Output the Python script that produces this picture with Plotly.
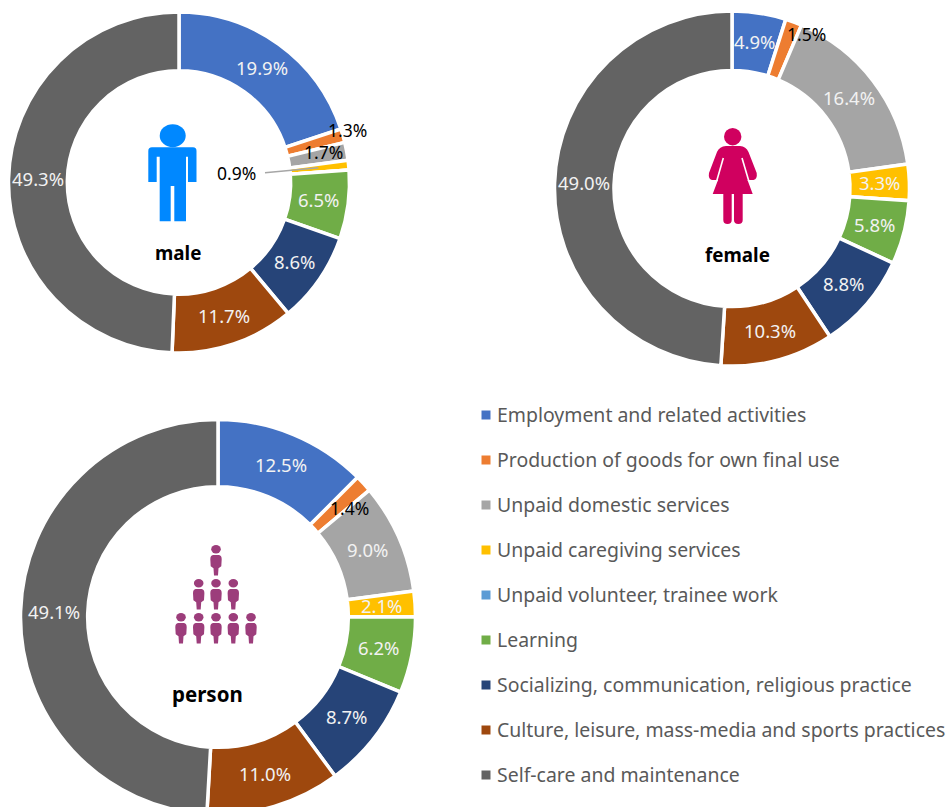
import math
import plotly.graph_objects as go

W, H = 949, 820

categories = ["Employment and related activities", "Production of goods for own final use",
              "Unpaid domestic services", "Unpaid caregiving services",
              "Unpaid volunteer, trainee work", "Learning",
              "Socializing, communication, religious practice",
              "Culture, leisure, mass-media and sports practices",
              "Self-care and maintenance"]
colors = ["#4472C4", "#ED7D31", "#A5A5A5", "#FFC000", "#5B9BD5", "#70AD47", "#264478", "#9E480E", "#636363"]
male = [19.9, 1.3, 1.7, 0.9, 0.0, 6.5, 8.6, 11.7, 49.3]
female = [4.9, 1.5, 16.4, 3.3, 0.0, 5.8, 8.8, 10.3, 49.0]
person = [12.5, 1.4, 9.0, 2.1, 0.0, 6.2, 8.7, 11.0, 49.1]

# name, values, cx, cy, outer r, hole, dark-label pixel positions keyed by category index
charts = [
    ("male", male, 179, 182.5, 170.5, 0.655, {1: (347, 130), 2: (323.5, 152), 3: (236, 173)}),
    ("female", female, 732, 188.5, 177.5, 0.665, {1: (806, 34)}),
    ("person", person, 218, 617, 197.5, 0.66, {1: (349, 508)}),
]
titles = [("male", 178, 253, 18.8), ("female", 737, 255, 18.8), ("person", 207, 694, 20.5)]
FONT = "Noto Sans"


def px(x):
    return x / W


def py(y):
    return 1 - y / H


fig = go.Figure()
annotations = []
for name, vals, cx, cy, r, hole, dark in charts:
    fig.add_trace(go.Pie(
        labels=categories, values=vals, sort=False, direction="clockwise", rotation=0,
        hole=hole, textinfo="none", hoverinfo="label+percent", showlegend=False,
        marker=dict(colors=colors, line=dict(color="white", width=3.5)),
        domain=dict(x=[px(cx - r), px(cx + r)], y=[py(cy + r), py(cy - r)]),
        name=name))
    total = sum(vals)
    cum = 0
    for i, v in enumerate(vals):
        mid = (cum + v / 2) / total * 2 * math.pi
        cum += v
        if v == 0:
            continue
        if i in dark:
            x, y = dark[i]
            col = "black"
            size = 17.5
        else:
            rm = r * (1 + hole) / 2
            x, y = cx + rm * math.sin(mid), cy - rm * math.cos(mid) - 1
            col = "#F2F2F2"
            size = 18.5
        annotations.append(dict(x=px(x), y=py(y), xref="paper", yref="paper", text=f"{v:.1f}%",
                                showarrow=False, xanchor="center", yanchor="middle",
                                font=dict(family=FONT, size=size, color=col)))

for t, x, y, s in titles:
    annotations.append(dict(x=px(x), y=py(y), xref="paper", yref="paper", text=f"<b>{t}</b>",
                            showarrow=False, xanchor="center", yanchor="middle",
                            font=dict(family=FONT, size=s, color="black")))

shapes = []


def path_shape(points_cmds, fill):
    out = []
    for c in points_cmds:
        if isinstance(c, str):
            out.append(c)
        else:
            out.append(f"{px(c[0]):.5f},{py(c[1]):.5f}")
    shapes.append(dict(type="path", xref="paper", yref="paper", path=" ".join(out),
                       fillcolor=fill, line=dict(width=0)))


def ellipse(cx, cy, rx, ry, fill):
    shapes.append(dict(type="circle", xref="paper", yref="paper", x0=px(cx - rx), x1=px(cx + rx),
                       y0=py(cy + ry), y1=py(cy - ry), fillcolor=fill, line=dict(width=0)))


def line(x0, y0, x1, y1, color, width):
    shapes.append(dict(type="line", xref="paper", yref="paper", x0=px(x0), x1=px(x1),
                       y0=py(y0), y1=py(y1), line=dict(color=color, width=width)))


# legend
for i, c in enumerate(categories):
    ly = 415 + 45 * i
    shapes.append(dict(type="rect", xref="paper", yref="paper", x0=px(481.5), x1=px(490.5),
                       y0=py(ly + 4.5), y1=py(ly - 4.5), fillcolor=colors[i], line=dict(width=0)))
    annotations.append(dict(x=px(494.5), y=py(ly - 1), xref="paper", yref="paper", text=c, showarrow=False,
                            xanchor="left", yanchor="middle",
                            font=dict(family=FONT, size=19.45, color="#595959")))

# male leader line
line(265, 172.7, 318.3, 167.7, "#A6A6A6", 1.5)

# male icon
BLUE = "#0088FF"
ellipse(172.7, 135.7, 13, 11.5, BLUE)
path_shape(["M", (152, 147.3), "L", (193, 147.3), "Q", (196.5, 147.3), (196.5, 151), "L", (196.5, 182),
            "L", (188, 182), "L", (188, 156.7), "L", (186, 156.7), "L", (186, 221.3), "L", (174.3, 221.3),
            "L", (174.3, 186), "L", (170.7, 186), "L", (170.7, 221.3), "L", (159.7, 221.3), "L", (159.7, 156.7),
            "L", (156.7, 156.7), "L", (156.7, 182), "L", (148.3, 182), "L", (148.3, 151),
            "Q", (148.3, 147.3), (152, 147.3), "Z"], BLUE)

# female icon
PINK = "#D0005F"
ellipse(732.7, 136.7, 8.7, 8.7, PINK)
path_shape(["M", (726, 146), "L", (740, 146), "Q", (746, 146.5), (748.5, 152), "L", (756.7, 173),
            "Q", (757.5, 179), (753.5, 180), "L", (747.5, 180), "L", (752.7, 194),
            "L", (712.7, 194), "L", (718, 180), "L", (712, 180), "Q", (708, 179), (709, 173),
            "L", (717, 152), "Q", (719.5, 146.5), (726, 146), "Z"], PINK)
line(723.3, 158, 716.7, 181, "white", 1.6)
line(742, 158, 748.8, 181, "white", 1.6)
for a, b in ((723.3, 731.7), (734, 742.7)):
    path_shape(["M", (a, 193), "L", (b, 193), "L", (b, 220), "Q", (b, 224), ((a + b) / 2, 224),
                "Q", (a, 224), (a, 220), "Z"], PINK)

# person icon
PURPLE = "#9C3D7B"
rows = [(549.3, [216]), (583.3, [198.7, 216, 233.3]), (617.3, [181, 198.7, 216, 233.3, 251])]
for hy, xs in rows:
    for x in xs:
        ellipse(x, hy, 4.8, 4.2, PURPLE)
        path_shape(["M", (x - 3, hy + 5.7), "L", (x + 3, hy + 5.7), "Q", (x + 5.7, hy + 6), (x + 5.7, hy + 10),
                    "L", (x + 5.3, hy + 17), "L", (x + 2.5, hy + 19), "L", (x + 2, hy + 26.3), "L", (x - 2, hy + 26.3),
                    "L", (x - 2.5, hy + 19), "L", (x - 5.3, hy + 17), "L", (x - 5.7, hy + 10),
                    "Q", (x - 5.7, hy + 6), (x - 3, hy + 5.7), "Z"], PURPLE)

fig.update_layout(width=W, height=H, margin=dict(l=0, r=0, t=0, b=0), paper_bgcolor="white",
                  plot_bgcolor="white", showlegend=False, annotations=annotations, shapes=shapes,
                  font=dict(family=FONT))
fig.write_html("out.html", config={"displayModeBar": False},
               post_script="document.documentElement.style.overflow='hidden';"
                           "document.body.style.margin='0';document.body.style.overflow='hidden';")
